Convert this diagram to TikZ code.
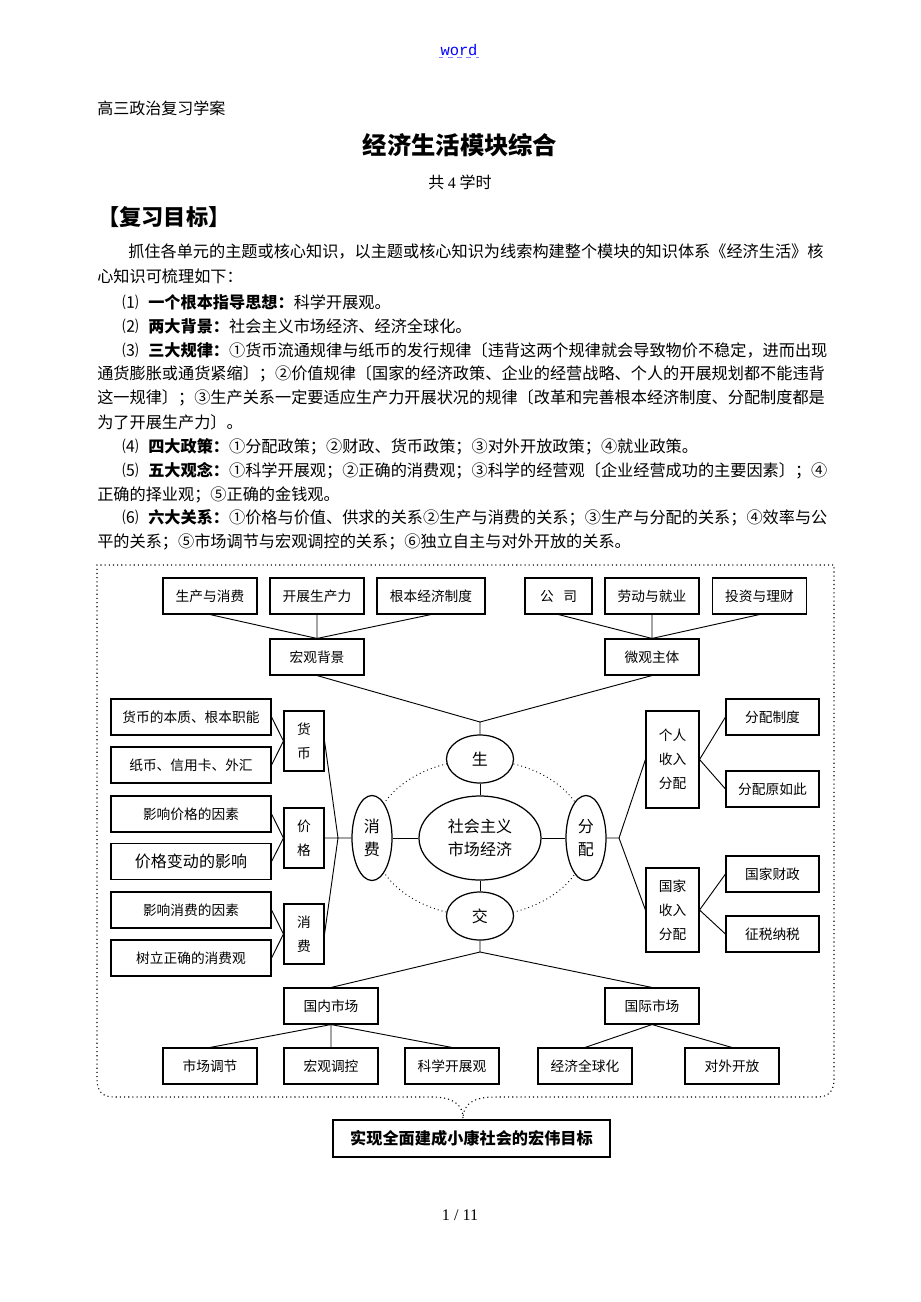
\documentclass[tikz,border=0pt]{standalone}
\usepackage{fontspec}
\setmainfont{Noto Sans CJK SC}
\newfontfamily\latserif{Liberation Serif}
\newfontfamily\latmono{Liberation Mono}
\usetikzlibrary{shapes.geometric}
\XeTeXlinebreaklocale "zh"
\XeTeXlinebreakskip=0pt plus 1pt minus 0.5pt
\newdimen\pxu \pxu=0.22826mm
\newcommand\xuhao[1]{\makebox[26\pxu][l]{#1}}

\begin{document}
\begin{tikzpicture}[x=0.22826mm, y=-0.22826mm,
    bw/.style 2 args={minimum width=#1*0.22826mm, minimum height=#2*0.22826mm},
    box/.style={draw, rectangle, inner sep=0pt, line width=0.7pt, align=center,
        font=\fontsize{8.9}{15.5}\selectfont},
    oval/.style={draw, ellipse, inner sep=0pt, line width=0.8pt, fill=white, align=center,
        font=\fontsize{10.4}{14.8}\selectfont},
    para/.style={anchor=west, inner sep=0pt, font=\fontsize{10.5}{13}\selectfont},
    link/.style={line width=0.6pt}]
    \fill[white] (0,0) rectangle (920,1302);
    % page head
    \node[inner sep=1pt, text=blue, font=\latmono\fontsize{10}{12}\selectfont] (wd) at (459,50) {word};
    \draw[dashed, blue!50, line width=0.5pt] (wd.south west) -- (wd.south east);
    \node[para, font=\fontsize{10.4}{12}\selectfont] (xa) at (97,108) {高三政治复习学案};
    \node[font=\fontsize{15.8}{18}\selectfont\bfseries] (bt) at (460,145) {经济生活模块综合};
    \node[font=\fontsize{10.4}{12}\selectfont] (xs) at (460,182) {共 {\latserif 4} 学时};
    \node[para, font=\fontsize{14.4}{16}\selectfont\bfseries] (mb) at (97,217) {【复习目标】};
    % text lines
    \node[para] (l1) at (128,252) {\hbox to 698\pxu{抓住各单元的主题或核心知识，以主题或核心知识为线索构建整个模块的知识体系《经济生活》核}};
    \node[para] (l2) at (97,276) {心知识可梳理如下：};
    \node[para] (l3) at (122,302) {\xuhao{⑴}\textbf{一个根本指导思想：}科学开展观。};
    \node[para] (l4) at (122,326) {\xuhao{⑵}\textbf{两大背景：}社会主义市场经济、经济全球化。};
    \node[para] (l5) at (122,350) {\hbox to 704\pxu{\xuhao{⑶}\textbf{三大规律：}①货币流通规律与纸币的发行规律〔违背这两个规律就会导致物价不稳定，进而出现}};
    \node[para] (l6) at (97,374) {\hbox to 729\pxu{通货膨胀或通货紧缩〕；②价值规律〔国家的经济政策、企业的经营战略、个人的开展规划都不能违背}};
    \node[para] (l7) at (97,398) {\hbox to 729\pxu{这一规律〕；③生产关系一定要适应生产力开展状况的规律〔改革和完善根本经济制度、分配制度都是}};
    \node[para] (l8) at (97,422) {为了开展生产力〕。};
    \node[para] (l9) at (122,447) {\xuhao{⑷}\textbf{四大政策：}①分配政策；②财政、货币政策；③对外开放政策；④就业政策。};
    \node[para] (l10) at (122,471) {\hbox to 704\pxu{\xuhao{⑸}\textbf{五大观念：}①科学开展观；②正确的消费观；③科学的经营观〔企业经营成功的主要因素〕；④}};
    \node[para] (l11) at (97,495) {正确的择业观；⑤正确的金钱观。};
    \node[para] (l12) at (122,518) {\hbox to 704\pxu{\xuhao{⑹}\textbf{六大关系：}①价格与价值、供求的关系②生产与消费的关系；③生产与分配的关系；④效率与公}};
    \node[para] (l13) at (97,542) {平的关系；⑤市场调节与宏观调控的关系；⑥独立自主与对外开放的关系。};
    % frame
    \draw[dotted, line width=0.7pt] (463,1118) .. controls (463,1104) and (452,1097) .. (432,1097) -- (114,1097)
        .. controls (102,1097) and (97,1091) .. (97,1079) -- (97,565) -- (834,565) -- (834,1079)
        .. controls (834,1091) and (829,1097) .. (817,1097) -- (494,1097)
        .. controls (474,1097) and (463,1104) .. (463,1118);
    \draw[dotted, line width=0.6pt] (480,838) ellipse [x radius=107, y radius=78];
    % top
    \node[box, bw={94}{36}] (scxf) at (210,596) {生产与消费};
    \node[box, bw={94}{36}] (kfscl) at (317,596) {开展生产力};
    \node[box, bw={108}{36}] (gbzd) at (431,596) {根本经济制度};
    \node[box, bw={67}{36}] (gs) at (558.5,596) {公\hspace{0.7em}司};
    \node[box, bw={94}{36}] (ldjy) at (652,596) {劳动与就业};
    \node[box, bw={94}{36}] (tzlc) at (759.5,596) {投资与理财};
    \node[box, bw={94}{36}] (hgbj) at (317,657) {宏观背景};
    \node[box, bw={94}{36}] (wgzt) at (652,657) {微观主体};
    % centre
    \node[oval, bw={67}{48}] (sheng) at (480,759) {生};
    \node[oval, bw={122}{84}] (sczy) at (480,838) {社会主义\\市场经济};
    \node[oval, bw={67}{48}] (jiao) at (480,916) {交};
    \node[oval, bw={40}{85}] (xiaofei) at (372,838) {消\\费};
    \node[oval, bw={40}{85}] (fenpei) at (586,838) {分\\配};
    % left
    \node[box, bw={160}{36}] (hbbz) at (191,717) {货币的本质、根本职能};
    \node[box, bw={160}{36}] (zbxyk) at (191,765) {纸币、信用卡、外汇};
    \node[box, bw={160}{36}] (yxjg) at (191,814) {影响价格的因素};
    \node[box, bw={160}{36}, font=\fontsize{10.4}{12}\selectfont] (jgbd) at (191,861.5) {价格变动的影响};
    \node[box, bw={160}{36}] (yxxf) at (191,910) {影响消费的因素};
    \node[box, bw={160}{36}] (slxfg) at (191,958) {树立正确的消费观};
    \node[box, bw={40}{60}] (huobi) at (304,741) {货\\币};
    \node[box, bw={40}{60}] (jiage) at (304,838) {价\\格};
    \node[box, bw={40}{60}] (xfbox) at (304,934) {消\\费};
    % right
    \node[box, bw={53}{97}] (grsr) at (672.5,759.5) {个人\\收入\\分配};
    \node[box, bw={53}{84}] (gjsr) at (672.5,910) {国家\\收入\\分配};
    \node[box, bw={93}{36}] (fpzd) at (772.5,717) {分配制度};
    \node[box, bw={93}{36}] (fpyz) at (772.5,789) {分配原如此};
    \node[box, bw={93}{36}] (gjcz) at (772.5,874) {国家财政};
    \node[box, bw={93}{36}] (zsns) at (772.5,934) {征税纳税};
    % bottom
    \node[box, bw={94}{36}] (gnsc) at (331,1006) {国内市场};
    \node[box, bw={94}{36}] (gjsc) at (652,1006) {国际市场};
    \node[box, bw={94}{36}] (sctj) at (210,1066) {市场调节};
    \node[box, bw={94}{36}] (hgtk) at (331,1066) {宏观调控};
    \node[box, bw={94}{36}] (kxfz) at (452,1066) {科学开展观};
    \node[box, bw={94}{36}] (jjqq) at (585,1066) {经济全球化};
    \node[box, bw={94}{36}] (dwkf) at (732,1066) {对外开放};
    \node[box, bw={277}{37}, line width=0.9pt, font=\fontsize{10.5}{12}\selectfont\bfseries] (mubiao) at (471.5,1138.5) {实现全面建成小康社会的宏伟目标};
    \coordinate (jt) at (480,722);
    \coordinate (jb) at (480,952);
    \coordinate (jl) at (338,838);
    \coordinate (jr) at (619,838);
    % links
    \draw[link] (scxf.south) -- (hgbj.north) (kfscl.south) -- (hgbj.north) (gbzd.south) -- (hgbj.north);
    \draw[link] (gs.south) -- (wgzt.north) (ldjy.south) -- (wgzt.north) (tzlc.south) -- (wgzt.north);
    \draw[link] (hgbj.south) -- (jt) -- (wgzt.south) (jt) -- (sheng.north);
    \draw[link] (sheng) -- (sczy) (sczy) -- (jiao) (xiaofei) -- (sczy) (sczy) -- (fenpei);
    \draw[link] (hbbz.east) -- (huobi.west) -- (zbxyk.east);
    \draw[link] (yxjg.east) -- (jiage.west) -- (jgbd.east);
    \draw[link] (yxxf.east) -- (xfbox.west) -- (slxfg.east);
    \draw[link] (huobi.east) -- (jl) -- (xfbox.east) (jiage.east) -- (jl) -- (xiaofei);
    \draw[link] (fenpei) -- (jr) -- (grsr.west) (jr) -- (gjsr.west);
    \draw[link] (fpzd.west) -- (grsr.east) -- (fpyz.west);
    \draw[link] (gjcz.west) -- (gjsr.east) -- (zsns.west);
    \draw[link] (jiao.south) -- (jb) -- (gnsc.north) (jb) -- (gjsc.north);
    \draw[link] (gnsc.south) -- (sctj.north) (gnsc.south) -- (hgtk.north) (gnsc.south) -- (kxfz.north);
    \draw[link] (gjsc.south) -- (jjqq.north) (gjsc.south) -- (dwkf.north);
    \node[font=\latserif\fontsize{10.5}{12}\selectfont] (ym) at (460,1215) {1 / 11};
\end{tikzpicture}
\end{document}
